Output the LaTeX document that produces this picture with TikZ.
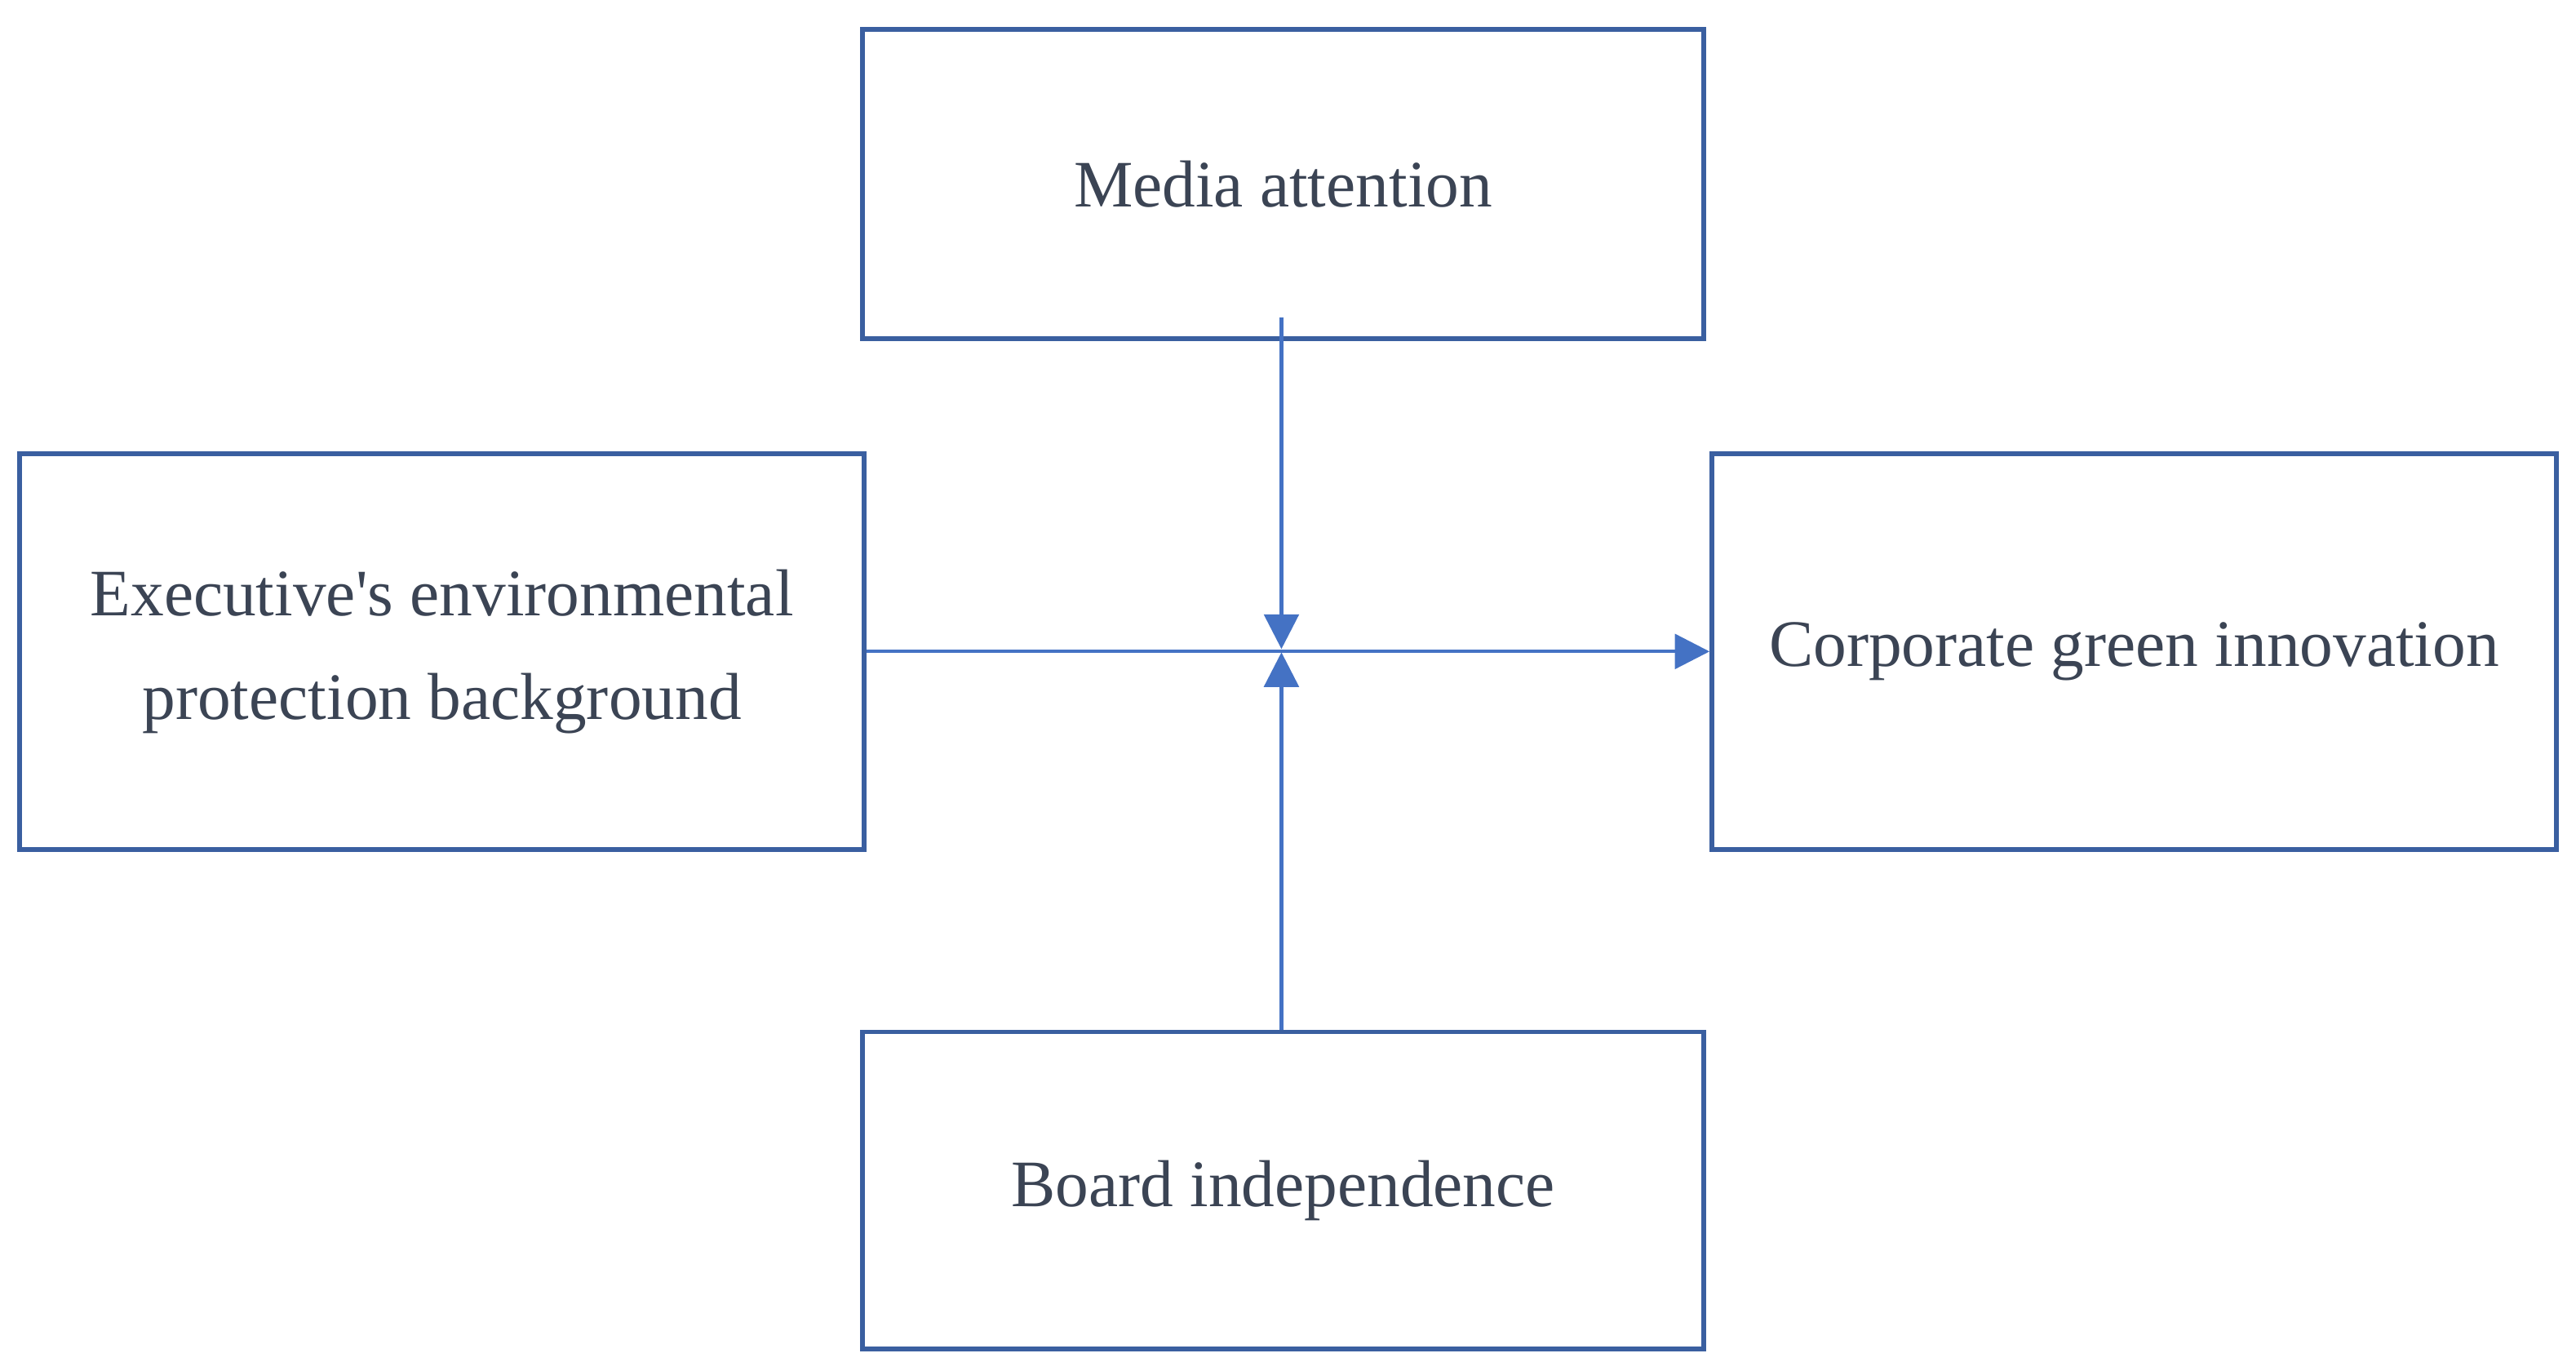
\documentclass[tikz,border=0pt]{standalone}
\usepackage{fontspec}
\setmainfont{Liberation Serif}[Ligatures=TeXOff]
\usetikzlibrary{arrows.meta}
\definecolor{bx}{HTML}{3A5FA0}
\definecolor{ar}{HTML}{4472C4}
\definecolor{tx}{HTML}{3B4454}
\begin{document}
\begin{tikzpicture}[x=0.02cm,y=-0.02cm,
  box/.style={draw=bx,line width=1.6pt,inner sep=0pt,align=center,text=tx,font=\fontsize{23}{36}\selectfont},
  con/.style={draw=ar,line width=1.2pt},
  tip/.style={-{Triangle[length=12pt,width=12pt]}}]
\useasboundingbox (0,0) rectangle (1568,834);
\node[box,minimum width=512*0.02cm,minimum height=188*0.02cm] (m) at (781,112) {Media attention};
\node[box,minimum width=514*0.02cm,minimum height=241*0.02cm] (e) at (269,396.5) {Executive's environmental\\protection background};
\node[box,minimum width=514*0.02cm,minimum height=241*0.02cm] (c) at (1299,396.5) {Corporate green innovation};
\node[box,minimum width=512*0.02cm,minimum height=193*0.02cm] (b) at (781,724.5) {Board independence};
\coordinate (ms) at (780,193);
\coordinate (mt) at (780,395);
\coordinate (bt) at (780,397);
\draw[con,tip] (e.east) -- (c.west);
\draw[con,tip] (ms) -- (mt);
\draw[con,tip] (b.north -| bt) -- (bt);
\end{tikzpicture}
\end{document}
